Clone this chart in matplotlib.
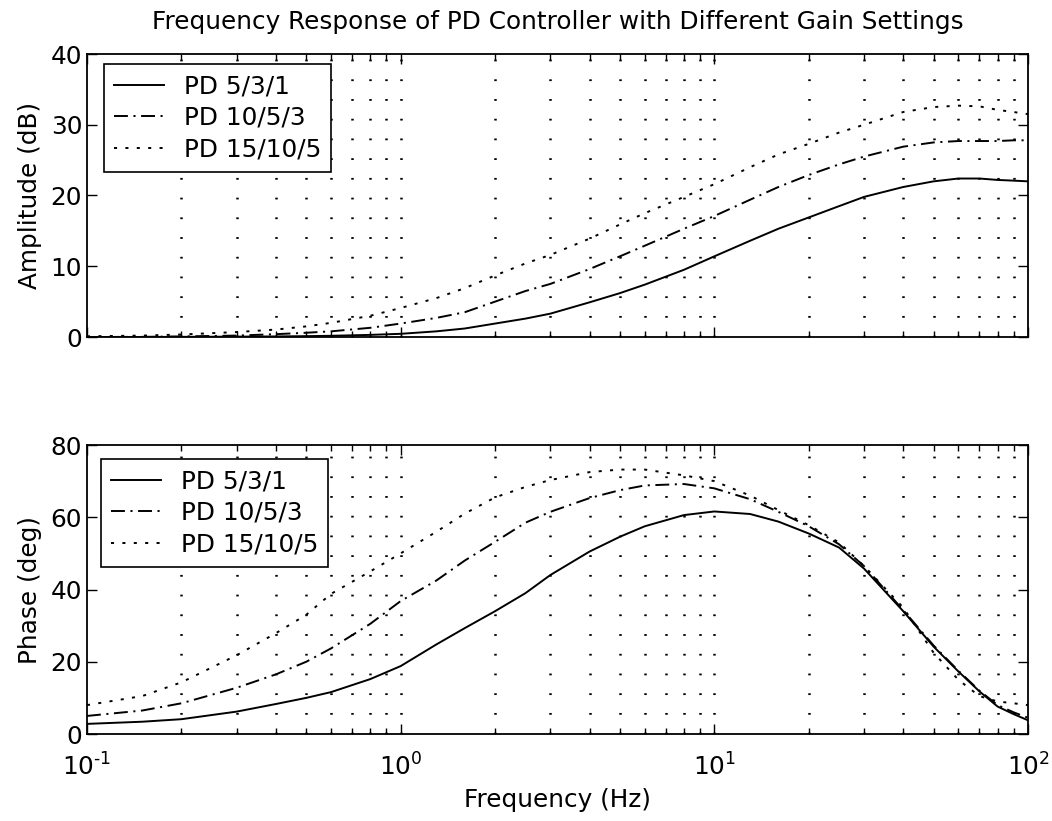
import math
import matplotlib
matplotlib.use("Agg")
import matplotlib.pyplot as plt
from matplotlib.ticker import LogLocator, NullFormatter, FuncFormatter

plt.rcParams['font.family'] = ['DejaVu Sans']
plt.rcParams['mathtext.default'] = 'regular'
plt.rcParams['axes.unicode_minus'] = False
plt.rcParams['lines.scale_dashes'] = False

# ---------------- data ----------------
freq_hz = [0.1, 0.15, 0.2, 0.3, 0.4, 0.5, 0.6, 0.8, 1.0, 1.3, 1.6, 2.0, 2.5, 3.0, 4.0,
           5.0, 6.0, 8.0, 10, 13, 16, 20, 25, 30, 40, 50, 60, 70, 80, 90, 100]

amp_pd_5_3_1 = [0.0, 0.0, 0.02, 0.05, 0.08, 0.12, 0.17, 0.3, 0.45, 0.8, 1.2, 1.9, 2.6, 3.3, 4.9,
                6.2, 7.4, 9.5, 11.4, 13.6, 15.3, 16.9, 18.5, 19.8, 21.2, 22.0, 22.4, 22.4, 22.2, 22.1, 22.0]
amp_pd_10_5_3 = [0.0, 0.02, 0.08, 0.2, 0.4, 0.6, 0.8, 1.3, 1.9, 2.7, 3.5, 5.0, 6.5, 7.5, 9.6,
                 11.4, 12.9, 15.3, 17.1, 19.4, 21.2, 22.9, 24.4, 25.5, 26.9, 27.5, 27.7, 27.7, 27.7, 27.8, 27.8]
amp_pd_15_10_5 = [0.1, 0.2, 0.35, 0.7, 1.05, 1.5, 2.0, 3.0, 4.1, 5.5, 6.9, 8.7, 10.4, 11.6, 13.9,
                  15.9, 17.5, 19.8, 21.6, 24.0, 25.8, 27.3, 28.9, 30.0, 31.8, 32.5, 32.7, 32.6, 32.1, 31.8, 31.5]

phase_pd_5_3_1 = [2.8, 3.4, 4.1, 6.2, 8.3, 10.0, 11.6, 15.2, 18.8, 24.8, 29.3, 34.0, 39.0, 44.0, 50.5,
                  54.6, 57.5, 60.6, 61.6, 60.9, 58.8, 55.5, 51.6, 45.8, 34.0, 24.2, 17.3, 11.8, 7.6, 5.5, 3.8]
phase_pd_10_5_3 = [5.0, 6.5, 8.5, 12.8, 16.5, 20.0, 23.7, 30.5, 36.8, 42.5, 48.0, 53.2, 58.5, 61.5, 65.3,
                   67.5, 68.8, 69.2, 68.0, 65.0, 61.5, 57.5, 52.5, 46.5, 34.3, 24.5, 17.5, 12.0, 8.0, 6.0, 4.5]
phase_pd_15_10_5 = [8.0, 10.5, 14.3, 21.8, 27.9, 33.0, 38.8, 45.0, 50.0, 56.0, 61.0, 65.5, 68.4, 70.3, 72.5,
                    73.2, 73.2, 71.6, 70.0, 66.0, 62.0, 57.8, 53.0, 46.5, 35.0, 22.5, 15.0, 10.5, 9.0, 8.5, 8.0]

series_labels = ['PD 5/3/1', 'PD 10/5/3', 'PD 15/10/5']
amp_yticks = [0, 10, 20, 30, 40]
phase_yticks = [0, 20, 40, 60, 80]

title_text = 'Frequency Response of PD Controller with Different Gain Settings'
xlabel_text = 'Frequency (Hz)'
amp_ylabel = 'Amplitude (dB)'
phase_ylabel = 'Phase (deg)'

# ---------------- styling ----------------
FS = 17.8
line_styles = [dict(linestyle='-'),
               dict(linestyle=(0, (10, 4, 1.5, 4))),
               dict(linestyle=(0, (2.2, 6)))]

fig = plt.figure(figsize=(10.52, 8.21), dpi=100)
W, H = 1052, 821
ax1 = fig.add_axes([87 / W, 1 - 337 / H, 941 / W, 283 / H])
ax2 = fig.add_axes([87 / W, 1 - 734 / H, 941 / W, 289 / H])

grid_positions = [m * 10 ** e for e in (-1, 0, 1) for m in range(1, 10)]
grid_positions = [g for g in grid_positions if 0.1 < g < 100]


def pow10(v, pos):
    e = int(round(math.log10(v)))
    if e < 0:
        return r'$10^{\text{-}%d}$' % (-e)
    return r'$10^{%d}$' % e


def style_axis(ax, yticks):
    ax.set_xscale('log')
    ax.set_xlim(0.1, 100)
    ax.set_ylim(yticks[0], yticks[-1])
    ax.set_yticks(yticks)
    ax.xaxis.set_major_locator(LogLocator(base=10, numticks=10))
    ax.xaxis.set_major_formatter(FuncFormatter(pow10))
    ax.xaxis.set_minor_locator(LogLocator(base=10, subs=range(2, 10), numticks=100))
    ax.xaxis.set_minor_formatter(NullFormatter())
    ax.tick_params(which='both', direction='in', top=True, right=True,
                   labelsize=FS, width=1.0, colors='black')
    ax.tick_params(which='major', length=7)
    ax.tick_params(which='minor', length=4)
    ax.tick_params(axis='x', which='major', pad=14)
    for s in ax.spines.values():
        s.set_linewidth(1.3)
        s.set_color('black')
    for g in grid_positions:
        ax.axvline(g, color='black', linewidth=1.8, linestyle=(0, (1.3, 12.9)), zorder=0)


style_axis(ax1, amp_yticks)
style_axis(ax2, phase_yticks)
ax1.tick_params(axis='x', labelbottom=False)

for vals, lab, st in zip([amp_pd_5_3_1, amp_pd_10_5_3, amp_pd_15_10_5], series_labels, line_styles):
    ax1.plot(freq_hz, vals, color='black', linewidth=1.4, label=lab, **st)
for vals, lab, st in zip([phase_pd_5_3_1, phase_pd_10_5_3, phase_pd_15_10_5], series_labels, line_styles):
    ax2.plot(freq_hz, vals, color='black', linewidth=1.4, label=lab, **st)

leg_kw = dict(loc='upper left', fontsize=FS, frameon=True, fancybox=False, framealpha=1,
              edgecolor='black', handlelength=2.0, handletextpad=0.8, labelspacing=0.3,
              borderaxespad=0, borderpad=0.42)
l1 = ax1.legend(bbox_to_anchor=(17 / 941, 1 - 10 / 283), **leg_kw)
l2 = ax2.legend(bbox_to_anchor=(14 / 941, 1 - 14 / 289), **leg_kw)
for l in (l1, l2):
    l.get_frame().set_linewidth(1.2)

ax1.set_ylabel(amp_ylabel, fontsize=FS, labelpad=6)
ax2.set_ylabel(phase_ylabel, fontsize=FS, labelpad=6)
ax2.set_xlabel(xlabel_text, fontsize=FS, labelpad=5)
ax1.set_title(title_text, fontsize=FS, pad=18)

fig.savefig('out.png', dpi=100)
